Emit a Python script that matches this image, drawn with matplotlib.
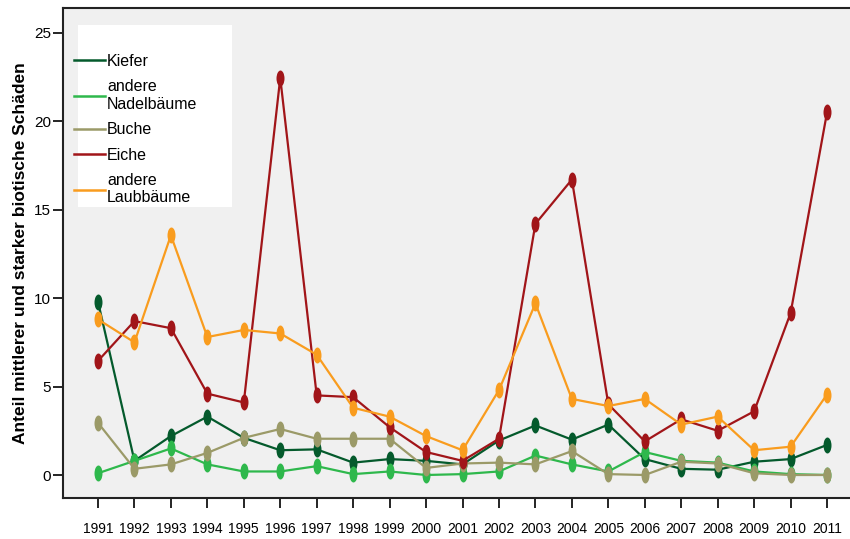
import matplotlib
matplotlib.use('Agg')
import matplotlib.pyplot as plt
import numpy as np
from matplotlib.path import Path
from matplotlib.transforms import Affine2D
from matplotlib.lines import Line2D
from matplotlib.patches import Rectangle

plt.rcParams['font.family'] = ['Liberation Sans', 'DejaVu Sans']

years = list(range(1991, 2012))

kiefer = [9.8, 0.8, 2.2, 3.3, 2.1, 1.4, 1.45, 0.7, 0.9, 0.8, 0.6, 1.95, 2.8, 2.0, 2.85, 0.9, 0.35, 0.3, 0.75, 0.9, 1.7]
nadel = [0.1, 0.8, 1.5, 0.6, 0.2, 0.2, 0.5, 0.05, 0.2, 0.0, 0.05, 0.2, 1.1, 0.6, 0.2, 1.3, 0.8, 0.7, 0.2, 0.05, 0.0]
buche = [2.95, 0.35, 0.6, 1.25, 2.1, 2.6, 2.05, 2.05, 2.05, 0.4, 0.65, 0.7, 0.6, 1.35, 0.05, 0.0, 0.75, 0.65, 0.1, 0.0, 0.0]
eiche = [6.45, 8.7, 8.3, 4.6, 4.1, 22.45, 4.5, 4.4, 2.7, 1.3, 0.8, 2.05, 14.2, 16.7, 4.0, 1.9, 3.15, 2.5, 3.6, 9.15, 20.5]
laub = [8.8, 7.5, 13.55, 7.8, 8.2, 8.0, 6.8, 3.8, 3.3, 2.2, 1.4, 4.8, 9.7, 4.3, 3.9, 4.3, 2.85, 3.3, 1.4, 1.6, 4.55]

series = [
    ('Kiefer', kiefer, '#045a2c'),
    ('andere\nNadelbäume', nadel, '#2eb84c'),
    ('Buche', buche, '#9b9a68'),
    ('Eiche', eiche, '#a11519'),
    ('andere\nLaubbäume', laub, '#f99c1e'),
]

# hochkant Ellipse als Marker
oval = Path.unit_circle().transformed(Affine2D().scale(0.5, 1.0))

fig = plt.figure(figsize=(8.5, 5.39), dpi=100)
ax = fig.add_axes([63 / 850, 41 / 539, 787 / 850, 490 / 539])
ax.set_facecolor('#f0f0f0')

handles = []
for name, vals, col in series:
    ax.plot(years, vals, color=col, lw=1.6, marker=oval, markersize=11.5,
            markeredgewidth=0)
    handles.append(Line2D([], [], color=col, lw=1.8, label=name))

ax.set_xlim(1990.04, 2011.63)
ax.set_ylim(-1.3, 26.4)
ax.set_xticks(years)
ax.set_xticklabels([str(y) for y in years], fontsize=10)
ax.set_yticks([0, 5, 10, 15, 20, 25])
ax.tick_params(axis='x', direction='out', length=7, width=1.2, pad=10)
ax.tick_params(axis='y', direction='out', length=7.2, width=1.2, pad=1.5, labelsize=11)
ax.spines['right'].set_visible(False)
for s in ['left', 'top', 'bottom']:
    ax.spines[s].set_linewidth(1.5)
    ax.spines[s].set_color('#222222')

ax.set_ylabel('Anteil mittlerer und starker biotische Schäden', fontsize=12.5,
              fontweight='bold', labelpad=4)

# weisser Legendenkasten
ax.add_patch(Rectangle((0.0191, 0.5939), 0.1956, 0.3714, transform=ax.transAxes,
                       facecolor='white', edgecolor='none', zorder=3))
leg = ax.legend(handles=handles, loc='upper left', bbox_to_anchor=(0.014, 0.906),
                frameon=False, fontsize=11.5, handlelength=1.95, handletextpad=0.12,
                labelspacing=0.65, borderpad=0, borderaxespad=0)
leg.set_zorder(4)

fig.savefig('out.png', dpi=100)
